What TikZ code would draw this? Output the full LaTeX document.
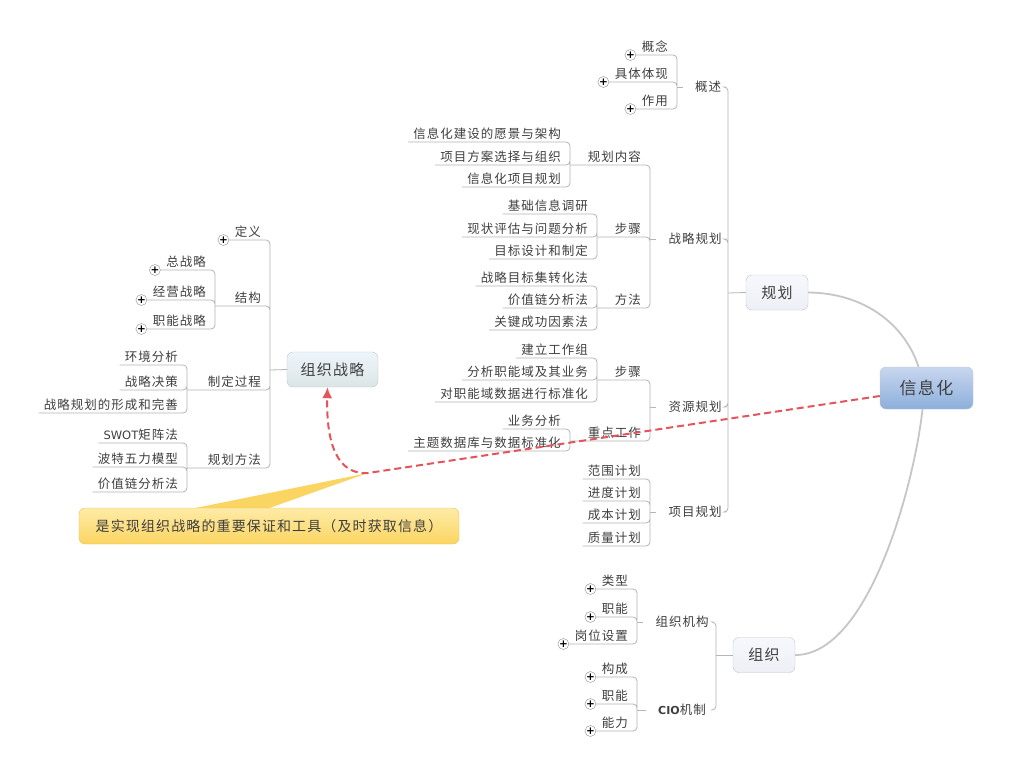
\documentclass[tikz,border=0pt]{standalone}
\usepackage{fontspec}
\setmainfont{Noto Sans CJK SC}[LetterSpace=8]
\newfontfamily\latin{DejaVu Sans}
\usetikzlibrary{arrows,arrows.meta,positioning}
\definecolor{txt}{HTML}{3F3F3F}
\definecolor{linegray}{HTML}{B5B5B5}
\definecolor{curvegray}{HTML}{C6C6C6}
\definecolor{relred}{HTML}{E5545C}
\definecolor{plusline}{HTML}{8C8C8C}
\definecolor{boxline}{HTML}{C2C5CC}
\definecolor{boxfill}{HTML}{EDEFF6}
\definecolor{boxtop}{HTML}{F6F8FC}
\definecolor{xxtop}{HTML}{C8D7EF}
\definecolor{xxbot}{HTML}{8CAEDB}
\definecolor{zltop}{HTML}{EDF5FC}
\definecolor{zlbot}{HTML}{DCE5E5}
\definecolor{notetop}{HTML}{FEEBA6}
\definecolor{notebot}{HTML}{FBD562}
\definecolor{noteline}{HTML}{EBC35A}
\tikzset{
    topic/.style={inner xsep=5pt, inner ysep=2.5pt, text=txt, font=\fontsize{12.5}{15}\selectfont},
    leaf/.style={topic, anchor=south east},
    expander/.style={circle, draw=plusline, fill=white, inner sep=0pt, minimum size=11pt, text=black, font=\latin\fontsize{10.5}{10}\selectfont\bfseries},
    link/.style={draw=linegray, line width=0.8pt, rounded corners=4pt},
    stub/.style={link, shorten >=7pt},
    bigcurve/.style={draw=curvegray, line width=1.8pt},
    rel/.style={-{Latex[length=11pt,width=10pt]}, draw=relred, dash pattern=on 7pt off 4pt, line width=2pt},
    central/.style={rounded corners=6pt, draw=boxline, top color=xxtop, bottom color=xxbot, minimum width=93pt, minimum height=42pt, text=txt, font=\fontsize{17}{20}\selectfont},
    major/.style={rounded corners=6pt, draw=boxline, top color=boxtop, bottom color=boxfill, minimum width=62pt, minimum height=35pt, text=txt, font=\fontsize{15}{18}\selectfont},
    strat/.style={major, top color=zltop, bottom color=zlbot, minimum width=91pt},
    notebox/.style={rounded corners=6pt, draw=noteline, top color=notetop, bottom color=notebot, minimum width=380pt, minimum height=36pt, text=txt, font=\fontsize{14}{16}\selectfont},
}

\begin{document}
\begin{tikzpicture}[x=1pt, y=-1pt]
    \fill[white] (0,0) rectangle (1013,776);

    % main topics
    \node[central] (xx) at (926.5,388) {信息化};
    \node[major] (gh) at (777,292.5) {规划};
    \node[major] (zz) at (764,655) {组织};
    \node[strat] (zlzl) at (332.5,369.5) {组织战略};

    % 规划
    \coordinate (gh-b) at (728,293);
    \node[topic] (gs) at (708,87) {概述};
    \node[topic] (zlgh) at (695,239) {战略规划};
    \node[topic] (zygh) at (695,407) {资源规划};
    \node[topic] (xmgh) at (695,512) {项目规划};

    \coordinate (gs-b) at (677,87);
    \node[leaf] (gs1) at (673,55) {概念};
    \node[leaf] (gs2) at (673,82) {具体体现};
    \node[leaf] (gs3) at (673,109) {作用};
    \node[expander, left=0.5pt of gs1.south west] (gs1p) {+};
    \node[expander, left=0.5pt of gs2.south west] (gs2p) {+};
    \node[expander, left=0.5pt of gs3.south west] (gs3p) {+};

    \coordinate (zlgh-b) at (650,239);
    \node[leaf] (nr) at (646,165) {规划内容};
    \node[leaf] (bz) at (646,237) {步骤};
    \node[leaf] (ff) at (646,308) {方法};
    \coordinate (nr-b) at (570,165);
    \node[leaf] (nr1) at (566,142) {信息化建设的愿景与架构};
    \node[leaf] (nr2) at (566,165) {项目方案选择与组织};
    \node[leaf] (nr3) at (566,187) {信息化项目规划};
    \coordinate (bz-b) at (597,237);
    \node[leaf] (bz1) at (593,214) {基础信息调研};
    \node[leaf] (bz2) at (593,237) {现状评估与问题分析};
    \node[leaf] (bz3) at (593,259) {目标设计和制定};
    \coordinate (ff-b) at (597,308);
    \node[leaf] (ff1) at (593,286) {战略目标集转化法};
    \node[leaf] (ff2) at (593,308) {价值链分析法};
    \node[leaf] (ff3) at (593,330) {关键成功因素法};

    \coordinate (zygh-b) at (650,407);
    \node[leaf] (zybz) at (646,380) {步骤};
    \node[leaf] (zd) at (646,441) {重点工作};
    \coordinate (zybz-b) at (597,380);
    \node[leaf] (zybz1) at (593,358) {建立工作组};
    \node[leaf] (zybz2) at (593,380) {分析职能域及其业务};
    \node[leaf] (zybz3) at (593,402) {对职能域数据进行标准化};
    \coordinate (zd-b) at (570,441);
    \node[leaf] (zd1) at (566,429) {业务分析};
    \node[leaf] (zd2) at (566,451) {主题数据库与数据标准化};

    \coordinate (xmgh-b) at (650,512);
    \node[leaf] (xm1) at (646,479) {范围计划};
    \node[leaf] (xm2) at (646,501) {进度计划};
    \node[leaf] (xm3) at (646,523) {成本计划};
    \node[leaf] (xm4) at (646,546) {质量计划};

    % 组织
    \coordinate (zz-b) at (716,655);
    \node[topic] (jg) at (682,622) {组织机构};
    \node[topic] (cio) at (682,710) {{\latin\bfseries\fontsize{11}{13}\selectfont CIO}机制};
    \coordinate (jg-b) at (637,622);
    \node[leaf] (jg1) at (633,589) {类型};
    \node[leaf] (jg2) at (633,617) {职能};
    \node[leaf] (jg3) at (633,644) {岗位设置};
    \node[expander, left=0.5pt of jg1.south west] (jg1p) {+};
    \node[expander, left=0.5pt of jg2.south west] (jg2p) {+};
    \node[expander, left=0.5pt of jg3.south west] (jg3p) {+};
    \coordinate (cio-b) at (637,710);
    \node[leaf] (cio1) at (633,677) {构成};
    \node[leaf] (cio2) at (633,704) {职能};
    \node[leaf] (cio3) at (633,731) {能力};
    \node[expander, left=0.5pt of cio1.south west] (cio1p) {+};
    \node[expander, left=0.5pt of cio2.south west] (cio2p) {+};
    \node[expander, left=0.5pt of cio3.south west] (cio3p) {+};

    % 组织战略
    \coordinate (zlzl-b) at (270,370);
    \node[leaf] (dy) at (266,240) {定义};
    \node[expander, left=0.5pt of dy.south west] (dyp) {+};
    \node[leaf] (jgou) at (266,306) {结构};
    \node[leaf] (gc) at (266,390) {制定过程};
    \node[leaf] (fa) at (266,468) {规划方法};
    \coordinate (jgou-b) at (215,306);
    \node[leaf] (jgou1) at (211,270) {总战略};
    \node[leaf] (jgou2) at (211,300) {经营战略};
    \node[leaf] (jgou3) at (211,329) {职能战略};
    \node[expander, left=0.5pt of jgou1.south west] (jgou1p) {+};
    \node[expander, left=0.5pt of jgou2.south west] (jgou2p) {+};
    \node[expander, left=0.5pt of jgou3.south west] (jgou3p) {+};
    \coordinate (gc-b) at (187,390);
    \node[leaf] (gc1) at (183,365) {环境分析};
    \node[leaf] (gc2) at (183,390) {战略决策};
    \node[leaf] (gc3) at (183,413) {战略规划的形成和完善};
    \coordinate (fa-b) at (187,468);
    \node[leaf] (fa1) at (183,443) {{\latin\fontsize{11.5}{13}\selectfont SWOT}矩阵法};
    \node[leaf] (fa2) at (183,467) {波特五力模型};
    \node[leaf] (fa3) at (183,492) {价值链分析法};

    % connectors
    \draw[bigcurve] (gh.east) .. controls (865,293) and (905,325) .. ([xshift=-8pt]xx.north);
    \draw[bigcurve] (zz.east) .. controls (870,655) and (915,480) .. ([xshift=-4pt]xx.south);

    \draw[link] (gs.east) -| (gh-b) (zlgh.east) -| (gh-b) (zygh.east) -| (gh-b) (xmgh.east) -| (gh-b);
    \draw[link] (gh-b) -- (gh.west);
    \draw[link] (gs1p.east) -| (gs-b) (gs2p.east) -| (gs-b) (gs3p.east) -| (gs-b);
    \draw[stub] (gs-b) -- (gs.west);
    \draw[link] (nr-b) -| (zlgh-b) (bz-b) -| (zlgh-b) (ff-b) -| (zlgh-b);
    \draw[stub] (zlgh-b) -- (zlgh.west);
    \draw[link] (nr1.south west) -| (nr-b) (nr2.south west) -| (nr-b) (nr3.south west) -| (nr-b);
    \draw[link] (bz1.south west) -| (bz-b) (bz2.south west) -| (bz-b) (bz3.south west) -| (bz-b);
    \draw[link] (ff1.south west) -| (ff-b) (ff2.south west) -| (ff-b) (ff3.south west) -| (ff-b);
    \draw[link] (zybz-b) -| (zygh-b) (zd-b) -| (zygh-b);
    \draw[stub] (zygh-b) -- (zygh.west);
    \draw[link] (zybz1.south west) -| (zybz-b) (zybz2.south west) -| (zybz-b) (zybz3.south west) -| (zybz-b);
    \draw[link] (zd1.south west) -| (zd-b) (zd2.south west) -| (zd-b);
    \draw[link] (xm1.south west) -| (xmgh-b) (xm2.south west) -| (xmgh-b) (xm3.south west) -| (xmgh-b) (xm4.south west) -| (xmgh-b);
    \draw[stub] (xmgh-b) -- (xmgh.west);

    \draw[link] (jg.east) -| (zz-b) (cio.east) -| (zz-b);
    \draw[link] (zz-b) -- (zz.west);
    \draw[link] (jg1p.east) -| (jg-b) (jg2p.east) -| (jg-b) (jg3p.east) -| (jg-b);
    \draw[stub] (jg-b) -- (jg.west);
    \draw[link] (cio1p.east) -| (cio-b) (cio2p.east) -| (cio-b) (cio3p.east) -| (cio-b);
    \draw[stub] (cio-b) -- (cio.west);

    \draw[link] (dyp.east) -| (zlzl-b) (jgou-b) -| (zlzl-b) (gc-b) -| (zlzl-b) (fa-b) -| (zlzl-b);
    \draw[link] (zlzl-b) -- (zlzl.west);
    \draw[link] (jgou1p.east) -| (jgou-b) (jgou2p.east) -| (jgou-b) (jgou3p.east) -| (jgou-b);
    \draw[link] (gc1.south west) -| (gc-b) (gc2.south west) -| (gc-b) (gc3.south west) -| (gc-b);
    \draw[link] (fa1.south west) -| (fa-b) (fa2.south west) -| (fa-b) (fa3.south west) -| (fa-b);

    % relationship and its callout
    \coordinate (relbend) at (368,473);
    \fill[notebot] (193,508.5) -- (relbend) -- (268,508.5) -- cycle;
    \node[notebox] (note) at (269,526) {是实现组织战略的重要保证和工具（及时获取信息）};
    \draw[rel] ([yshift=-8pt]xx.west) -- (relbend) .. controls (338,475) and (326,445) .. ([xshift=-5pt]zlzl.south);
\end{tikzpicture}
\end{document}
